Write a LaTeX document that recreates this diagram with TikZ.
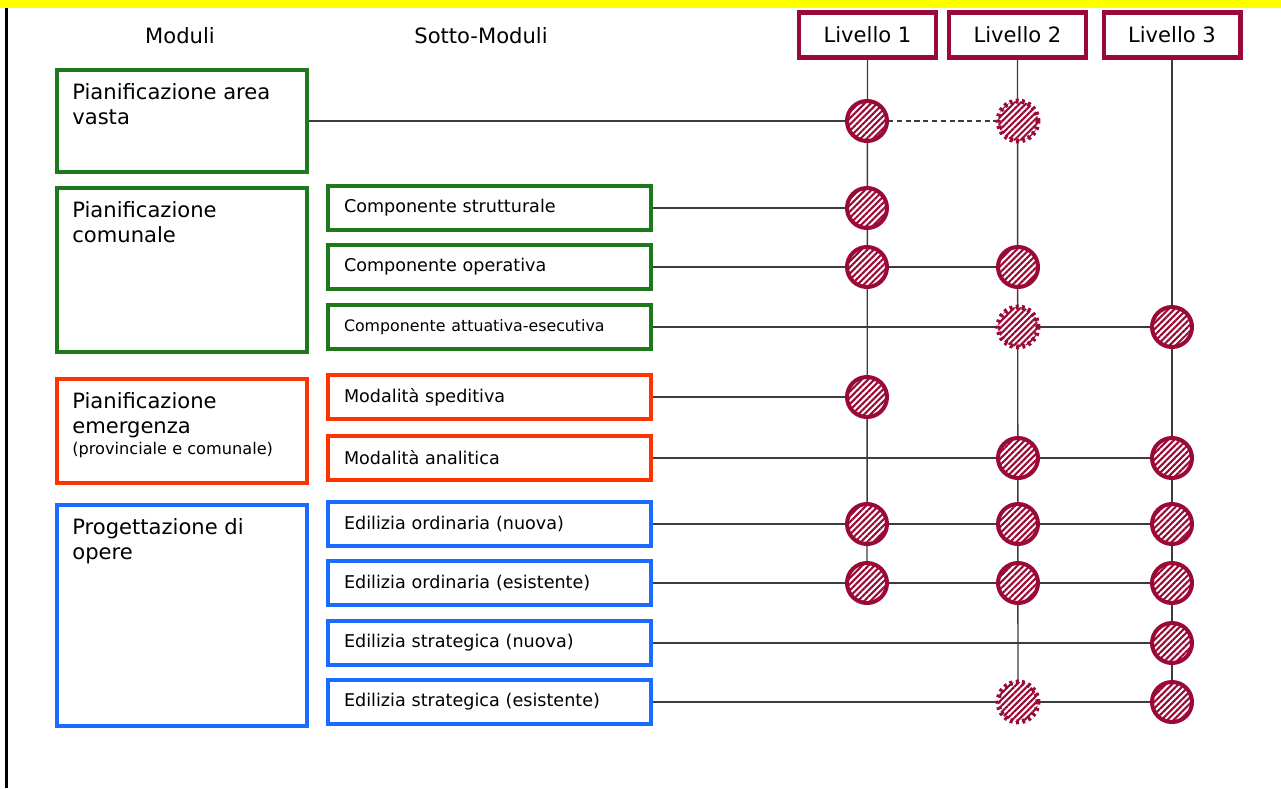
\documentclass[tikz,border=0pt]{standalone}
\usepackage{fontspec}
\setmainfont{DejaVu Sans}
\usetikzlibrary{patterns.meta,backgrounds}

\definecolor{verde}{RGB}{30,120,30}
\definecolor{rosso}{RGB}{255,51,0}
\definecolor{blu}{RGB}{26,108,255}
\definecolor{cremisi}{RGB}{155,10,55}
\definecolor{giallo}{RGB}{255,255,0}
\definecolor{testo}{RGB}{34,34,34}
\definecolor{linea}{RGB}{60,60,60}

\tikzset{
  modbox/.style={draw=#1, line width=2.3pt, anchor=north west, minimum width=5cm, inner sep=0pt},
  modtext/.style={anchor=north west, inner sep=0pt, align=left, font=\fontsize{12}{14.2}\selectfont},
  subbox/.style={draw=#1, line width=2.3pt, minimum height=0.88cm, text width=5.82cm,
    inner xsep=0.32cm, align=left, font=\fontsize{10}{12}\selectfont},
  levbox/.style={draw=cremisi, line width=2.3pt, minimum width=2.74cm, minimum height=0.9cm,
    font=\fontsize{12}{14}\selectfont},
  lev/.style={circle, draw=cremisi, line width=2.3pt, minimum size=0.8cm, inner sep=0pt,
    preaction={fill=white}, pattern={Lines[angle=45,distance=2.5pt,line width=1.2pt]},
    pattern color=cremisi},
  levd/.style={lev, draw=none,
    postaction={draw=cremisi, line width=2.8pt, dash pattern=on 1.6pt off 1.9pt}},
  conn/.style={draw=linea, line width=0.8pt}
}

\begin{document}
\begin{tikzpicture}[x=0.02cm, y=-0.02cm, font=\color{testo}]
  \useasboundingbox (0,0) rectangle (1281,788);
  \fill[giallo] (0,0) rectangle (1281,8);
  \fill[black] (5,8) rectangle (8,788);

  % intestazioni
  \node[font=\fontsize{12}{14}\selectfont] (hmod) at (180,36) {Moduli};
  \node[font=\fontsize{12}{14}\selectfont] (hsub) at (481,36) {Sotto-Moduli};
  \foreach \i/\x in {1/867.5, 2/1017.5, 3/1172}
    \node[levbox] (L\i) at (\x,35) {Livello \i};

  % moduli
  \node[modbox=verde, minimum height=2.04cm] (pav) at (55,68) {};
  \node[modtext] (tpav) at ([shift={(17,15)}]pav.north west) {Pianificazione area\\vasta};
  \node[modbox=verde, minimum height=3.28cm] (pco) at (55,186) {};
  \node[modtext] (tpco) at ([shift={(17,15)}]pco.north west) {Pianificazione\\comunale};
  \node[modbox=rosso, minimum height=2.08cm] (pem) at (55,377) {};
  \node[modtext] (tpem) at ([shift={(17,15)}]pem.north west)
    {Pianificazione\\emergenza\\[-2pt]{\fontsize{9.2}{11}\selectfont (provinciale e comunale)}};
  \node[modbox=blu, minimum height=4.42cm] (pop) at (55,503) {};
  \node[modtext] (tpop) at ([shift={(17,15)}]pop.north west) {Progettazione di\\opere};

  % sotto-moduli
  \foreach \n/\y/\c/\t in {cs/208/verde/Componente strutturale,
      co/267/verde/Componente operativa,
      ca/327/verde/{\fontsize{9}{11}\selectfont Componente attuativa-esecutiva},
      ms/397/rosso/Modalità speditiva,
      ma/458/rosso/Modalità analitica,
      on/524/blu/Edilizia ordinaria (nuova),
      oe/583/blu/Edilizia ordinaria (esistente),
      sn/643/blu/Edilizia strategica (nuova),
      se/702/blu/Edilizia strategica (esistente)}
    \node[subbox=\c] (\n) at (489.5,\y) {\t};

  % livelli per riga
  \foreach \n/\x/\y/\s in {av1/867/121/lev, av2/1018/121/levd,
      cs1/867/208/lev, co1/867/267/lev, co2/1018/267/lev,
      ca2/1018/327/levd, ca3/1172/327/lev, ms1/867/397/lev,
      ma2/1018/458/lev, ma3/1172/458/lev,
      on1/867/524/lev, on2/1018/524/lev, on3/1172/524/lev,
      oe1/867/583/lev, oe2/1018/583/lev, oe3/1172/583/lev,
      sn3/1172/643/lev, se2/1018/702/levd, se3/1172/702/lev}
    \node[\s] (\n) at (\x,\y) {};

  \begin{pgfonlayer}{background}
    \draw[conn] (pav.east |- av1) -- (av1);
    \draw[conn, dash pattern=on 3pt off 2pt] (av1) -- (av2);
    \foreach \r/\e in {cs/cs1, co/co2, ca/ca3, ms/ms1, ma/ma3, on/on3, oe/oe3, sn/sn3, se/se3}
      \draw[conn] (\r.east) -- (\e.center);
    \draw[conn] (L1.south) -- (oe1.center);
    \draw[conn] (L2.south) -- (se2.center);
    \draw[conn] (L3.south) -- (se3.center);
  \end{pgfonlayer}
\end{tikzpicture}
\end{document}
